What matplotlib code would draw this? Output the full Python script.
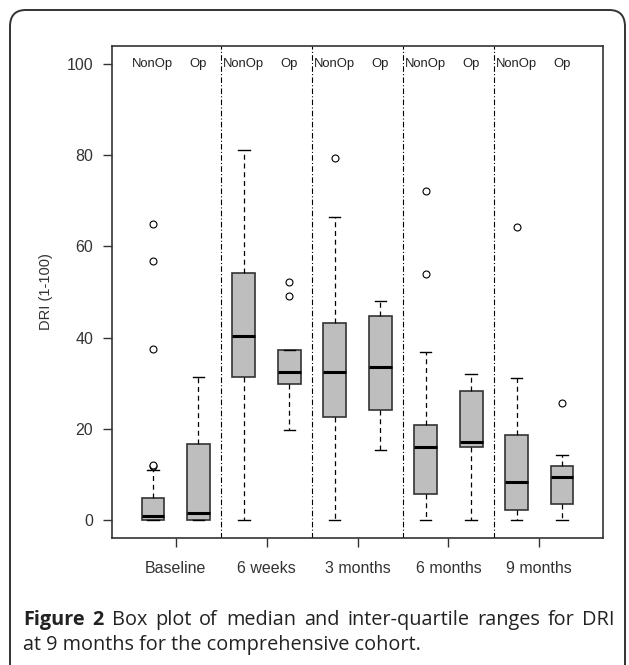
import numpy as np
import matplotlib
matplotlib.use("Agg")
import matplotlib.pyplot as plt
from matplotlib.patches import FancyBboxPatch

# data (DRI, 1-100)
groups = ["Baseline", "6 weeks", "3 months", "6 months", "9 months"]
arms = ["NonOp", "Op"]
q1 = [0.0, 0.0, 31.3, 29.9, 22.5, 24.2, 5.7, 16.0, 2.2, 3.5]
med = [0.9, 1.5, 40.4, 32.4, 32.4, 33.6, 15.9, 17.0, 8.4, 9.5]
q3 = [4.7, 16.7, 54.2, 37.2, 43.3, 44.8, 20.8, 28.3, 18.7, 11.7]
whislo = [0.0, 0.0, 0.0, 19.8, 0.0, 15.3, 0.0, 0.0, 0.0, 0.0]
whishi = [10.9, 31.4, 81.1, 37.3, 66.4, 48.0, 36.9, 31.9, 31.1, 14.2]
fliers = [[11.7, 12.1, 37.4, 56.8, 64.9], [], [], [49.2, 52.2], [79.4],
          [], [54.0, 72.2], [], [64.2], [25.7]]
yticks = [0, 20, 40, 60, 80, 100]

caption_bold = "Figure 2"
caption_l1 = "Box plot of median and inter-quartile ranges for DRI"
caption_l2 = "at 9 months for the comprehensive cohort."

plt.rcParams['font.family'] = ['Liberation Sans', 'DejaVu Sans']

W, H = 629, 665
fig = plt.figure(figsize=(W/100, H/100), dpi=100)
ax = fig.add_axes([112/W, 1-538/H, (603-112)/W, (538-46)/H])

stats = []
for i in range(len(med)):
    stats.append(dict(q1=q1[i], med=med[i], q3=q3[i], whislo=whislo[i],
                      whishi=whishi[i], fliers=fliers[i]))
pos = np.arange(1, len(med) + 1)
edge = '#333333'
ax.bxp(stats, positions=pos, widths=0.5, patch_artist=True, showfliers=True,
       boxprops=dict(facecolor='#bebebe', edgecolor=edge, linewidth=1.2),
       medianprops=dict(color='black', linewidth=2.2, solid_capstyle='butt'),
       whiskerprops=dict(color='black', linewidth=0.9, linestyle=(0, (4, 3))),
       capprops=dict(color='black', linewidth=1.0),
       capwidths=0.25,
       flierprops=dict(marker='o', markerfacecolor='white', markeredgecolor='black',
                       markersize=5, markeredgewidth=0.8))

# separators between time points
for k in range(1, len(groups)):
    ax.axvline(2*k + 0.5, color='black', linewidth=0.8, linestyle=(0, (5, 2, 1, 2)))

# arm labels along the top
for i, p in enumerate(pos):
    ax.text(p, 100, arms[i % 2], ha='center', va='center', fontsize=9.4, color='#222222')

ax.set_xlim(0.1, 10.9)
ax.set_ylim(-4, 104)
ax.set_yticks(yticks)
ax.set_yticklabels([str(v) for v in yticks], fontsize=11.5, color='#333333')
ax.set_xticks(np.arange(len(groups)) * 2 + 1.5)
ax.set_xticklabels(groups, fontsize=11.5, color='#333333')
ax.tick_params(axis='both', direction='out', length=6.5, width=1.0, color='#333333')
ax.tick_params(axis='y', pad=7)
ax.tick_params(axis='x', pad=10)
for s in ax.spines.values():
    s.set_color('#333333')
    s.set_linewidth(1.2)
ax.set_ylabel("DRI (1-100)", fontsize=10.5, color='#333333')
ax.yaxis.set_label_coords(-0.12, 0.5)

# rounded frame around the figure
frame = FancyBboxPatch((10/W, -0.05), (625-10)/W, 1 - 10/H + 0.05,
                       boxstyle="round,pad=0,rounding_size=0.025",
                       transform=fig.transFigure, facecolor='none',
                       edgecolor='#333333', linewidth=1.4, clip_on=False)
fig.patches.append(frame)

# caption, first line justified between x0 and x1
cap_font = ['Open Sans', 'DejaVu Sans']
cap_size = 14.3
x0, x1 = 23, 615
fig.canvas.draw()
r = fig.canvas.get_renderer()
words = [(w, 'bold') for w in caption_bold.split()] + [(w, 'normal') for w in caption_l1.split()]
widths = []
for w, fw in words:
    t = fig.text(0, 0, w, fontsize=cap_size, fontweight=fw, family=cap_font)
    widths.append(t.get_window_extent(renderer=r).width)
    t.remove()
gap = (x1 - x0 - sum(widths)) / (len(words) - 1)
x = x0
for (w, fw), wd in zip(words, widths):
    fig.text(x/W, 1-620/H, w, fontsize=cap_size, fontweight=fw, family=cap_font,
             va='center', ha='left', color='#222222')
    x += wd + gap
fig.text(x0/W, 1-645/H, caption_l2, fontsize=cap_size, family=cap_font,
         va='center', ha='left', color='#222222')

fig.savefig("out.png", dpi=100)
